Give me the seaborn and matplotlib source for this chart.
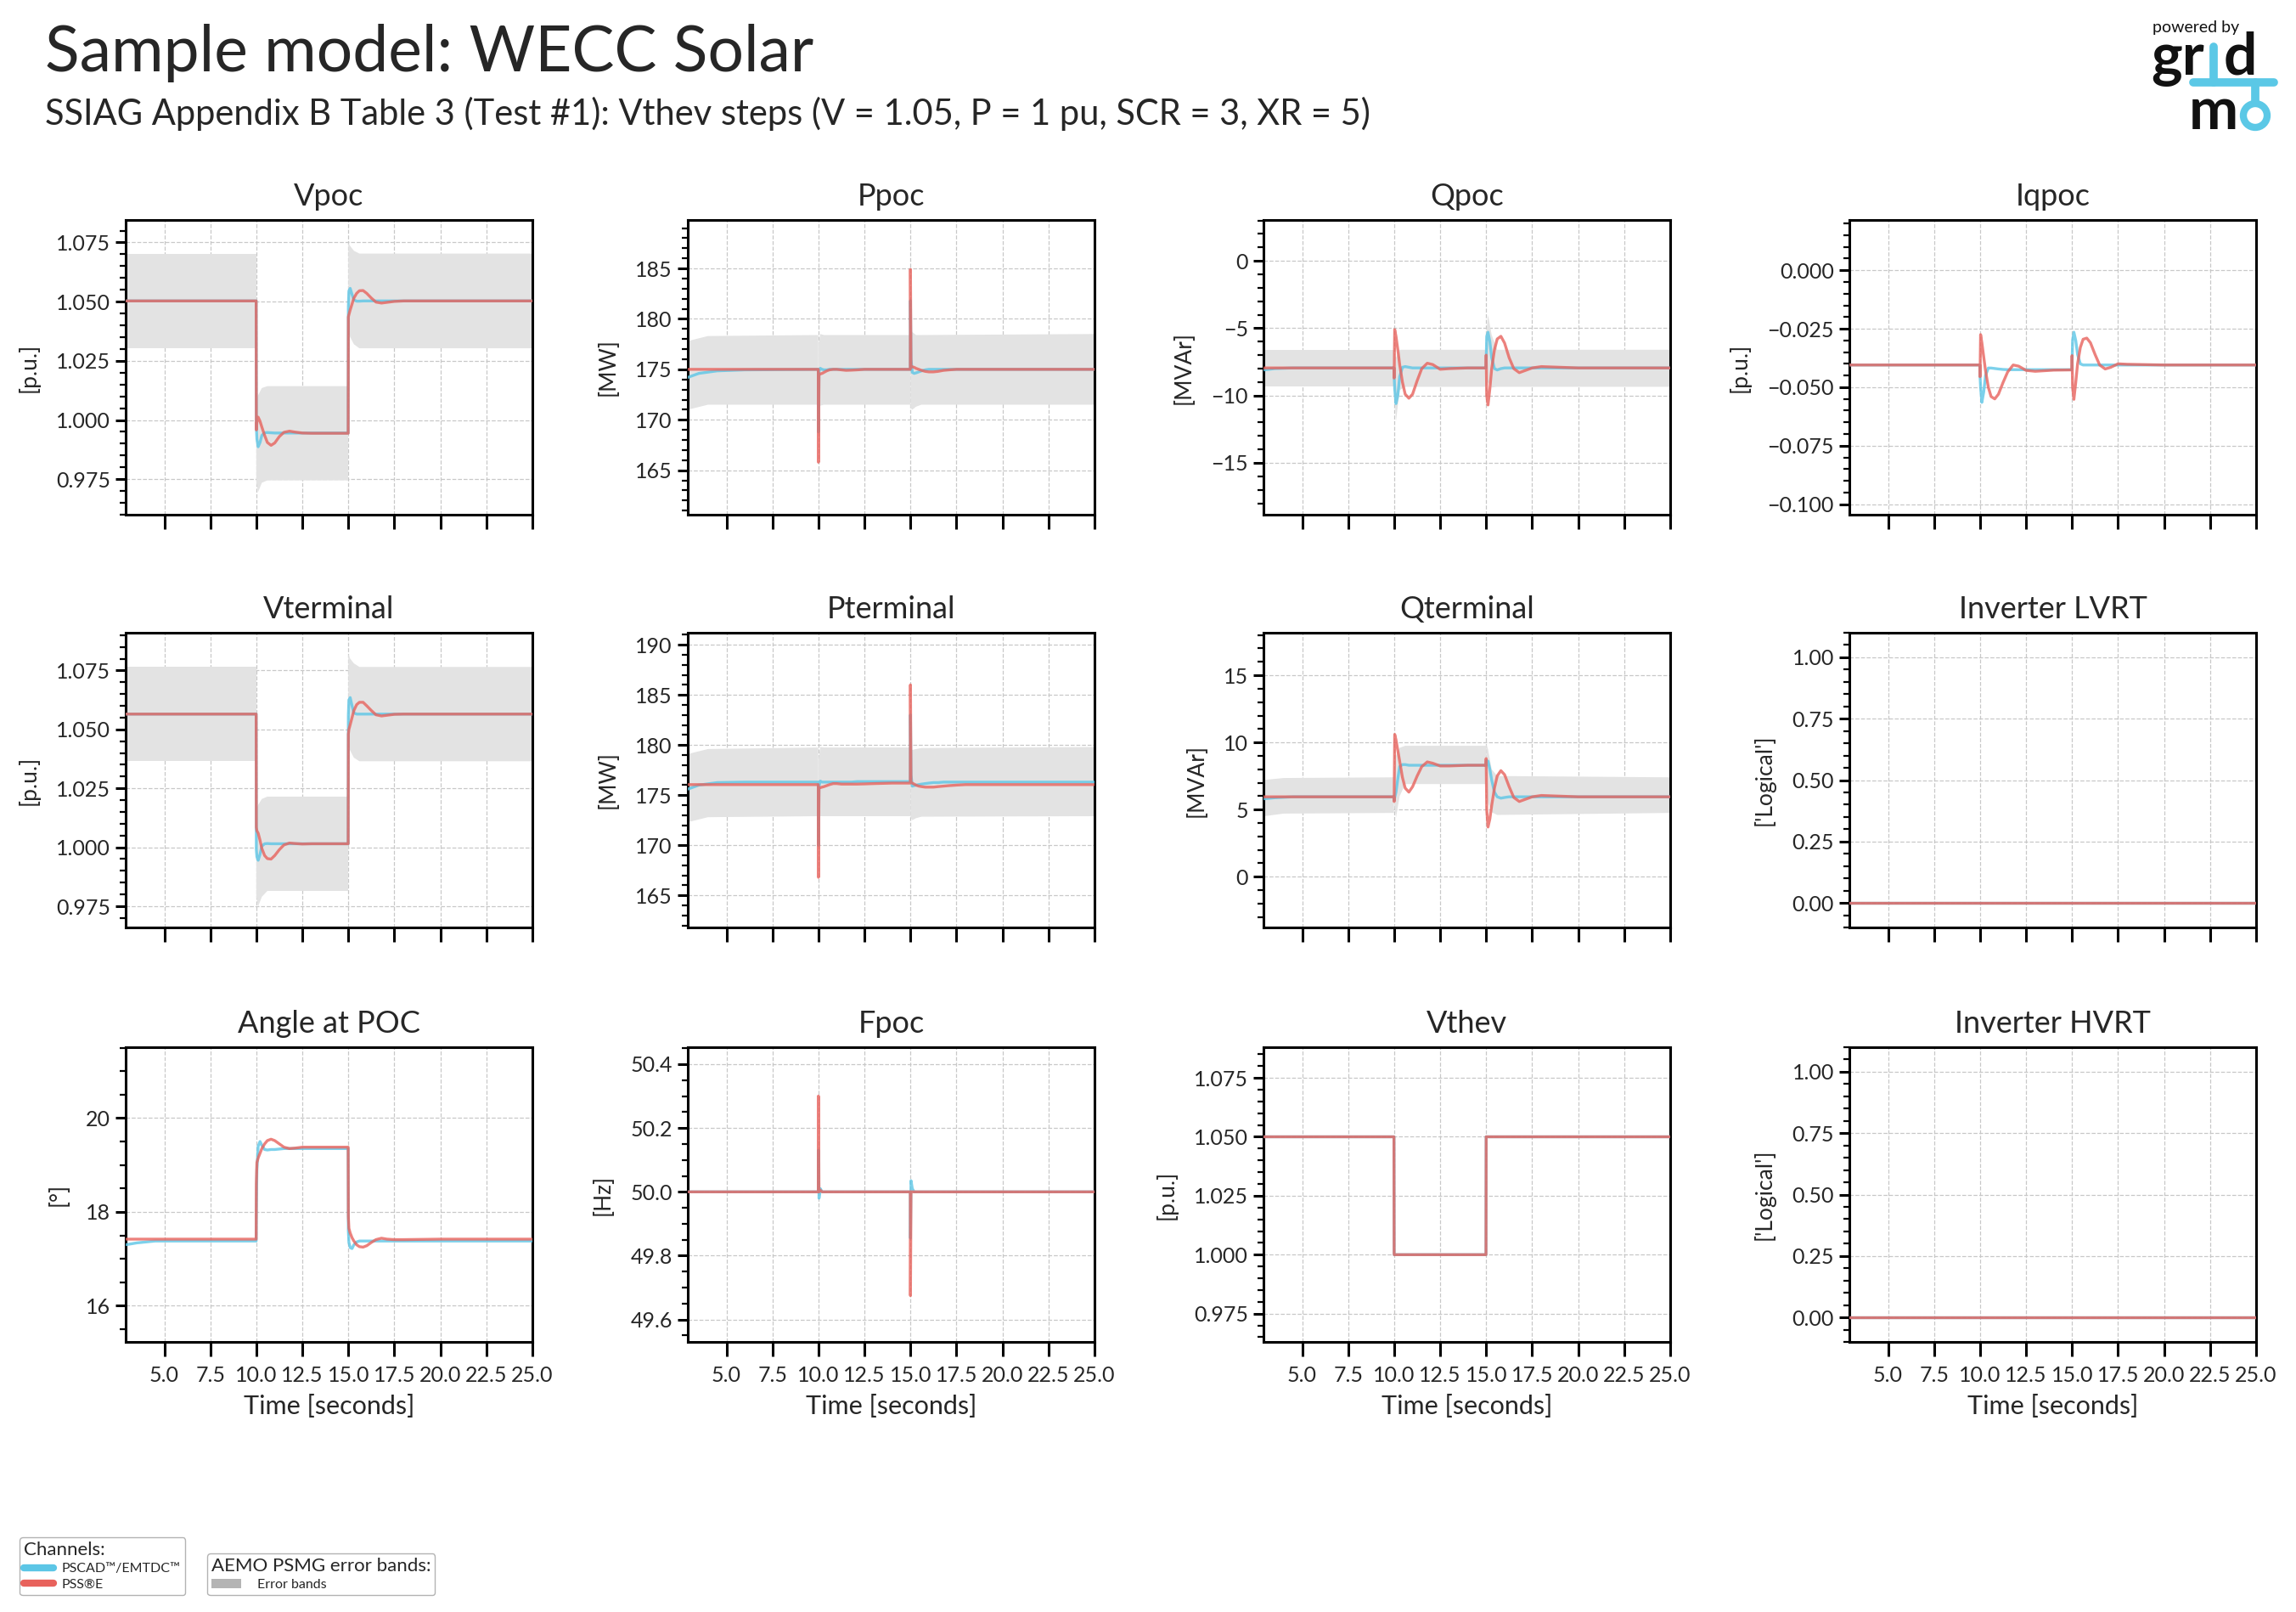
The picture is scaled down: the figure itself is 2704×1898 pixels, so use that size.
import numpy as np
import pandas as pd
import matplotlib
matplotlib.use("Agg")
import matplotlib.pyplot as plt
import seaborn as sns
from matplotlib.ticker import MultipleLocator, AutoMinorLocator, ScalarFormatter
from matplotlib.lines import Line2D
from matplotlib.patches import Patch, Circle

nan = np.nan

# ---------------- data ----------------
time_s = [2.9, 3.5, 4.5, 6.0, 9.99,
          10.0, 10.03, 10.1, 10.2, 10.3, 10.45, 10.6, 10.8, 11.0, 11.25, 11.5, 11.8, 12.1, 12.5, 13.0, 14.0, 14.99,
          15.0, 15.03, 15.1, 15.2, 15.3, 15.45, 15.6, 15.8, 16.0, 16.25, 16.5, 16.8, 17.1, 17.5, 18.0, 20.0, 25.0]
band_time_s = [2.9, 4.0, 9.99, nan, 10.0, 10.1, 10.3, 10.6, 14.99, nan, 15.0, 15.1, 15.3, 15.6, 25.0]
flat_time_s = [2.9, 25.0]
vthev_time_s = [2.9, 9.99, 10.0, 14.99, 15.0, 25.0]

vpoc_pscad = [1.0503, 1.0503, 1.0503, 1.0503, 1.0503,
              0.997, 0.992, 0.9887, 0.9905, 0.9935, 0.9946, 0.9947, 0.9946, 0.9945, 0.9945, 0.9945, 0.9945, 0.9945, 0.9945, 0.9945, 0.9945, 0.9945,
              1.048, 1.0545, 1.0556, 1.053, 1.0508, 1.0502, 1.0502, 1.0503, 1.0503, 1.0503, 1.0503, 1.0503, 1.0503, 1.0503, 1.0503, 1.0503, 1.0503]
vpoc_psse = [1.0503, 1.0503, 1.0503, 1.0503, 1.0503,
             0.9958, 0.999, 1.0012, 0.9995, 0.997, 0.9935, 0.9905, 0.9893, 0.9903, 0.993, 0.9948, 0.9953, 0.9949, 0.9945, 0.9944, 0.9944, 0.9944,
             1.0435, 1.0445, 1.0465, 1.049, 1.0515, 1.0535, 1.0546, 1.0547, 1.0535, 1.0515, 1.0498, 1.0494, 1.0497, 1.0501, 1.0503, 1.0503, 1.0503]
vpoc_band_hi = [1.0703, 1.0703, 1.0703, nan, 1.0085, 1.0105, 1.0135, 1.0143, 1.0143, nan, 1.0747, 1.0735, 1.0715, 1.0703, 1.0703]
vpoc_band_lo = [1.0303, 1.0303, 1.0303, nan, 0.9735, 0.9696, 0.9735, 0.9745, 0.9745, nan, 1.037, 1.035, 1.032, 1.0303, 1.0303]

ppoc_pscad = [174.2, 174.6, 174.85, 174.95, 175.0,
              168.8, 174.8, 175.1, 175.0, 174.95, 174.95, 175.0, 175.0, 175.0, 175.0, 175.0, 175.0, 175.0, 175.0, 175.0, 175.0, 175.0,
              181.8, 176.0, 174.7, 174.6, 174.65, 174.75, 174.85, 174.95, 175.0, 175.0, 175.0, 175.0, 175.0, 175.0, 175.0, 175.0, 175.0]
ppoc_psse = [175.0, 175.0, 175.0, 175.0, 175.0,
             165.8, 174.5, 174.55, 174.6, 174.7, 174.85, 174.95, 175.0, 175.0, 174.95, 174.9, 174.92, 174.95, 175.0, 175.0, 175.0, 175.0,
             184.9, 175.3, 175.25, 175.2, 175.1, 175.0, 174.9, 174.8, 174.75, 174.75, 174.8, 174.9, 174.95, 175.0, 175.0, 175.0, 175.0]
ppoc_band_hi = [177.8, 178.3, 178.4, nan, 177.5, 178.5, 178.4, 178.4, 178.4, nan, 178.9, 178.7, 178.4, 178.4, 178.5]
ppoc_band_lo = [171.0, 171.5, 171.5, nan, 171.5, 171.4, 171.5, 171.5, 171.5, nan, 171.2, 171.0, 171.3, 171.5, 171.5]

qpoc_pscad = [-8.1, -8.0, -7.95, -7.95, -7.95,
              -8.5, -9.5, -10.6, -10.0, -8.6, -7.9, -7.85, -7.9, -7.95, -7.95, -7.95, -7.95, -7.95, -7.95, -7.95, -7.95, -7.95,
              -7.5, -5.6, -5.3, -6.0, -7.2, -8.0, -8.1, -8.0, -7.95, -7.95, -7.95, -7.95, -7.95, -7.95, -7.95, -7.95, -7.95]
qpoc_psse = [-7.95, -7.95, -7.95, -7.95, -7.95,
             -8.7, -5.1, -5.6, -6.6, -7.7, -9.0, -9.9, -10.2, -9.9, -8.9, -8.0, -7.6, -7.7, -8.05, -8.0, -7.95, -7.95,
             -7.0, -10.0, -10.7, -9.5, -8.0, -6.6, -5.8, -5.6, -6.1, -7.2, -8.0, -8.3, -8.15, -7.95, -7.85, -7.95, -7.95]
qpoc_band_hi = [-6.6, -6.6, -6.6, nan, -6.9, -7.2, -6.6, -6.6, -6.6, nan, -5.5, -4.0, -5.5, -6.6, -6.6]
qpoc_band_lo = [-9.35, -9.35, -9.35, nan, -9.5, -11.9, -9.6, -9.35, -9.35, nan, -9.4, -9.0, -9.4, -9.35, -9.35]

iqpoc_pscad = [-0.0405, -0.0405, -0.0405, -0.0405, -0.0405,
               -0.045, -0.050, -0.0565, -0.052, -0.045, -0.0418, -0.0418, -0.042, -0.0422, -0.0424, -0.0425, -0.0425, -0.0425, -0.0425, -0.0425, -0.0425, -0.0425,
               -0.040, -0.030, -0.0265, -0.030, -0.036, -0.040, -0.0405, -0.0405, -0.0405, -0.0405, -0.0405, -0.0405, -0.0405, -0.0405, -0.0405, -0.0405, -0.0405]
iqpoc_psse = [-0.0405, -0.0405, -0.0405, -0.0405, -0.0405,
              -0.0455, -0.0275, -0.031, -0.037, -0.043, -0.050, -0.054, -0.055, -0.053, -0.048, -0.0435, -0.0405, -0.041, -0.0428, -0.0432, -0.0427, -0.0426,
              -0.0365, -0.050, -0.0552, -0.048, -0.040, -0.033, -0.0295, -0.029, -0.031, -0.036, -0.0405, -0.0422, -0.0415, -0.040, -0.0402, -0.0405, -0.0405]

vterm_pscad = [1.0565, 1.0565, 1.0565, 1.0565, 1.0565,
               0.999, 0.996, 0.9945, 0.997, 1.0005, 1.0015, 1.0016, 1.0015, 1.0015, 1.0015, 1.0015, 1.0015, 1.0015, 1.0015, 1.0015, 1.0015, 1.0015,
               1.056, 1.0625, 1.0635, 1.060, 1.057, 1.0565, 1.0565, 1.0565, 1.0565, 1.0565, 1.0565, 1.0565, 1.0565, 1.0565, 1.0565, 1.0565, 1.0565]
vterm_psse = [1.0565, 1.0565, 1.0565, 1.0565, 1.0565,
              1.0085, 1.007, 1.006, 1.003, 0.9995, 0.9965, 0.9952, 0.995, 0.9965, 0.999, 1.001, 1.0018, 1.0016, 1.0014, 1.0015, 1.0015, 1.0015,
              1.048, 1.050, 1.052, 1.055, 1.058, 1.0605, 1.0615, 1.0615, 1.060, 1.058, 1.0562, 1.0557, 1.056, 1.0564, 1.0565, 1.0565, 1.0565]
vterm_band_hi = [1.0765, 1.0765, 1.0765, nan, 1.016, 1.018, 1.0205, 1.0215, 1.0215, nan, 1.082, 1.080, 1.078, 1.0765, 1.0765]
vterm_band_lo = [1.0365, 1.0365, 1.0365, nan, 0.979, 0.975, 0.979, 0.9815, 0.9815, nan, 1.043, 1.041, 1.038, 1.0365, 1.0365]

pterm_pscad = [175.6, 176.0, 176.25, 176.3, 176.3,
               170.0, 175.9, 176.4, 176.3, 176.3, 176.3, 176.3, 176.3, 176.3, 176.3, 176.3, 176.3, 176.35, 176.35, 176.35, 176.35, 176.35,
               183.0, 177.0, 175.9, 175.95, 176.0, 176.05, 176.1, 176.15, 176.2, 176.25, 176.25, 176.3, 176.3, 176.3, 176.3, 176.3, 176.3]
pterm_psse = [176.05, 176.05, 176.05, 176.05, 176.05,
              166.8, 175.7, 175.75, 175.8, 175.85, 175.95, 176.05, 176.15, 176.15, 176.1, 176.1, 176.1, 176.1, 176.12, 176.15, 176.2, 176.2,
              186.0, 176.3, 176.2, 176.1, 176.0, 175.9, 175.85, 175.8, 175.8, 175.8, 175.85, 175.9, 175.95, 176.0, 176.05, 176.05, 176.05]
pterm_band_hi = [179.1, 179.6, 179.75, nan, 178.5, 179.8, 179.75, 179.75, 179.75, nan, 179.6, 179.5, 179.6, 179.7, 179.8]
pterm_band_lo = [172.3, 172.8, 172.9, nan, 172.9, 172.9, 172.9, 172.9, 172.9, nan, 172.8, 172.5, 172.7, 172.85, 172.9]

qterm_pscad = [5.8, 5.88, 5.95, 5.95, 5.95,
               5.7, 5.9, 6.3, 7.3, 8.2, 8.35, 8.35, 8.3, 8.3, 8.3, 8.3, 8.3, 8.3, 8.3, 8.3, 8.3, 8.3,
               8.6, 8.65, 8.6, 8.0, 7.2, 6.3, 5.95, 5.85, 5.9, 5.95, 5.95, 5.95, 5.95, 5.95, 5.95, 5.95, 5.95]
qterm_psse = [5.95, 5.95, 5.95, 5.95, 5.95,
              5.6, 10.6, 10.2, 9.4, 8.6, 7.4, 6.6, 6.3, 6.7, 7.5, 8.2, 8.55, 8.45, 8.25, 8.25, 8.3, 8.3,
              8.8, 5.0, 3.7, 4.3, 5.3, 6.6, 7.5, 7.9, 7.6, 6.7, 5.9, 5.6, 5.75, 5.95, 6.05, 5.95, 5.95]
qterm_band_hi = [7.2, 7.35, 7.4, nan, 7.5, 9.0, 9.6, 9.75, 9.75, nan, 9.9, 9.5, 8.0, 7.5, 7.4]
qterm_band_lo = [4.5, 4.7, 4.75, nan, 5.5, 4.4, 6.0, 6.9, 6.9, nan, 6.5, 5.5, 4.8, 4.6, 4.75]

angle_pscad = [17.3, 17.34, 17.38, 17.38, 17.38,
               18.0, 18.9, 19.4, 19.5, 19.42, 19.33, 19.32, 19.33, 19.33, 19.34, 19.35, 19.35, 19.35, 19.35, 19.35, 19.35, 19.35,
               17.6, 17.35, 17.24, 17.22, 17.3, 17.36, 17.38, 17.38, 17.38, 17.38, 17.38, 17.38, 17.38, 17.38, 17.38, 17.38, 17.38]
angle_psse = [17.42, 17.42, 17.42, 17.42, 17.42,
              18.6, 19.05, 19.15, 19.25, 19.35, 19.45, 19.52, 19.55, 19.52, 19.45, 19.38, 19.35, 19.36, 19.38, 19.38, 19.38, 19.38,
              17.9, 17.65, 17.55, 17.45, 17.38, 17.3, 17.26, 17.25, 17.28, 17.35, 17.41, 17.44, 17.42, 17.41, 17.41, 17.42, 17.42]

fpoc_pscad = [50.0, 50.0, 50.0, 50.0, 50.0,
              50.13, 49.98, 50.01, 50.0, 50.0, 50.0, 50.0, 50.0, 50.0, 50.0, 50.0, 50.0, 50.0, 50.0, 50.0, 50.0, 50.0,
              49.855, 50.035, 50.01, 50.0, 50.0, 50.0, 50.0, 50.0, 50.0, 50.0, 50.0, 50.0, 50.0, 50.0, 50.0, 50.0, 50.0]
fpoc_psse = [50.0, 50.0, 50.0, 50.0, 50.0,
             50.30, 50.0, 50.005, 50.0, 50.0, 50.0, 50.0, 50.0, 50.0, 50.0, 50.0, 50.0, 50.0, 50.0, 50.0, 50.0, 50.0,
             49.675, 50.0, 50.0, 50.0, 50.0, 50.0, 50.0, 50.0, 50.0, 50.0, 50.0, 50.0, 50.0, 50.0, 50.0, 50.0, 50.0]

vthev_pscad = [1.05, 1.05, 1.0, 1.0, 1.05, 1.05]
vthev_psse = [1.05, 1.05, 1.0, 1.0, 1.05, 1.05]
lvrt_pscad = [0.0, 0.0]
lvrt_psse = [0.0, 0.0]
hvrt_pscad = [0.0, 0.0]
hvrt_psse = [0.0, 0.0]

# ---------------- style ----------------
sns.set_theme(style="ticks")
FONT = ["Lato", "DejaVu Sans"]
plt.rcParams["font.family"] = FONT
plt.rcParams["axes.unicode_minus"] = True

BLUE = "#5CC6E6"
RED = "#E8625C"
BAND = "#E3E3E3"

panels = [
    ("Vpoc", "[p.u.]", (0.96, 1.0845), 0.025, time_s, vpoc_pscad, vpoc_psse, vpoc_band_lo, vpoc_band_hi),
    ("Ppoc", "[MW]", (160.6, 189.8), 5, time_s, ppoc_pscad, ppoc_psse, ppoc_band_lo, ppoc_band_hi),
    ("Qpoc", "[MVAr]", (-18.85, 3.04), 5, time_s, qpoc_pscad, qpoc_psse, qpoc_band_lo, qpoc_band_hi),
    ("Iqpoc", "[p.u.]", (-0.1045, 0.0215), 0.025, time_s, iqpoc_pscad, iqpoc_psse, None, None),
    ("Vterminal", "[p.u.]", (0.966, 1.091), 0.025, time_s, vterm_pscad, vterm_psse, vterm_band_lo, vterm_band_hi),
    ("Pterminal", "[MW]", (161.8, 191.2), 5, time_s, pterm_pscad, pterm_psse, pterm_band_lo, pterm_band_hi),
    ("Qterminal", "[MVAr]", (-3.78, 18.17), 5, time_s, qterm_pscad, qterm_psse, qterm_band_lo, qterm_band_hi),
    ("Inverter LVRT", "['Logical']", (-0.1, 1.1), 0.25, flat_time_s, lvrt_pscad, lvrt_psse, None, None),
    ("Angle at POC", "[°]", (15.23, 21.51), 2, time_s, angle_pscad, angle_psse, None, None),
    ("Fpoc", "[Hz]", (49.53, 50.453), 0.2, time_s, fpoc_pscad, fpoc_psse, None, None),
    ("Vthev", "[p.u.]", (0.963, 1.088), 0.025, vthev_time_s, vthev_pscad, vthev_psse, None, None),
    ("Inverter HVRT", "['Logical']", (-0.1, 1.1), 0.25, flat_time_s, hvrt_pscad, hvrt_psse, None, None),
]

W, H = 2704.0, 1898.0
fig = plt.figure(figsize=(27.04, 18.98), dpi=100)
col_left_px = [148, 810, 1488, 2178]
row_top_px = [259, 745, 1233]
ax_w_px, ax_h_px = 479, 347

axes = []
first = None
for r in range(3):
    for c in range(4):
        rect = [col_left_px[c] / W, 1 - (row_top_px[r] + ax_h_px) / H, ax_w_px / W, ax_h_px / H]
        ax = fig.add_axes(rect, sharex=first)
        if first is None:
            first = ax
        axes.append(ax)

for i, (ax, p) in enumerate(zip(axes, panels)):
    title, ylabel, ylim, step, tt, pscad, psse, blo, bhi = p
    if blo is not None:
        ax.fill_between(band_time_s, blo, bhi, color=BAND, lw=0, zorder=1)
    df = pd.DataFrame({"t": tt, "pscad": pscad, "psse": psse})
    sns.lineplot(data=df, x="t", y="pscad", ax=ax, color=BLUE, lw=2.4, alpha=0.8,
                 estimator=None, sort=False, legend=False, zorder=3)
    sns.lineplot(data=df, x="t", y="psse", ax=ax, color=RED, lw=2.4, alpha=0.8,
                 estimator=None, sort=False, legend=False, zorder=4)
    ax.set_xlim(2.9, 25.0)
    ax.set_ylim(*ylim)
    ax.xaxis.set_major_locator(MultipleLocator(2.5))
    ax.yaxis.set_major_locator(MultipleLocator(step))
    ax.yaxis.set_minor_locator(AutoMinorLocator())
    ax.yaxis.set_major_formatter(ScalarFormatter(useOffset=False))
    ax.grid(True, which="major", ls="--", lw=0.9, color="#C8C8C8")
    for s in ax.spines.values():
        s.set_linewidth(2.2)
        s.set_color("black")
        s.set_visible(True)
    ax.tick_params(axis="y", which="major", direction="out", length=9, width=2.2,
                   labelsize=18, color="black", pad=4)
    ax.tick_params(axis="x", which="major", direction="out", length=12, width=2.2,
                   labelsize=18, color="black", pad=8)
    ax.tick_params(axis="y", which="minor", direction="out", length=5, width=1.6, color="black")
    ax.tick_params(axis="x", which="minor", length=0)
    ax.set_title(title, fontsize=26, pad=12)
    ax.set_ylabel(ylabel, fontsize=19, labelpad=14)
    if i >= 8:
        ax.set_xlabel("Time [seconds]", fontsize=22, labelpad=8)
    else:
        ax.set_xlabel("")
        ax.tick_params(axis="x", labelbottom=False)

# titles
fig.text(0.0195, 0.9557, "Sample model: WECC Solar", fontsize=54, va="baseline", ha="left")
fig.text(0.0195, 0.9226, "SSIAG Appendix B Table 3 (Test #1): Vthev steps (V = 1.05, P = 1 pu, SCR = 3, XR = 5)",
         fontsize=30, va="baseline", ha="left")

# legends
h1 = [Line2D([0], [0], color=BLUE, lw=6), Line2D([0], [0], color=RED, lw=6)]
fig.legend(h1, ["PSCAD™/EMTDC™", "PSS®E"], title="Channels:", loc="lower left",
           bbox_to_anchor=(0.0057, 0.0064), fontsize=11.5, title_fontsize=16, alignment="left",
           frameon=True, edgecolor="#A0A0A0", fancybox=True, handlelength=2.2,
           borderpad=0.3, labelspacing=0.3, handletextpad=0.6)
h2 = [Patch(facecolor="#B4B4B4", edgecolor="none")]
fig.legend(h2, ["Error bands"], title="AEMO PSMG error bands:", loc="lower left",
           bbox_to_anchor=(0.0874, 0.0064), fontsize=11.5, title_fontsize=16, alignment="left",
           frameon=True, edgecolor="#A0A0A0", fancybox=True, handlelength=2.2, handleheight=0.6,
           borderpad=0.3, labelspacing=0.3, handletextpad=1.2)

# logo
lax = fig.add_axes([2520 / W, 1 - 165 / H, 180 / W, 150 / H])
lax.set_xlim(2520, 2700)
lax.set_ylim(165, 15)
lax.axis("off")
LB = "#5BC8E6"
lax.text(2535, 38, "powered by", fontsize=14, ha="left", va="baseline", color="#111111")
lax.text(2533, 88, "gr", fontsize=50, fontweight="bold", ha="left", va="baseline", color="#111111")
lax.text(2619, 88, "d", fontsize=50, fontweight="bold", ha="left", va="baseline", color="#111111")
lax.plot([2607, 2607], [55, 97], color=LB, lw=7, solid_capstyle="round")
lax.plot([2583, 2678], [97, 97], color=LB, lw=7, solid_capstyle="round")
lax.plot([2656, 2656], [97, 120], color=LB, lw=7, solid_capstyle="round")
lax.add_patch(Circle((2656, 136), 14, fill=False, ec=LB, lw=6))
lax.text(2578, 152, "m", fontsize=50, fontweight="bold", ha="left", va="baseline", color="#111111")

fig.savefig("out.png", dpi=100)
